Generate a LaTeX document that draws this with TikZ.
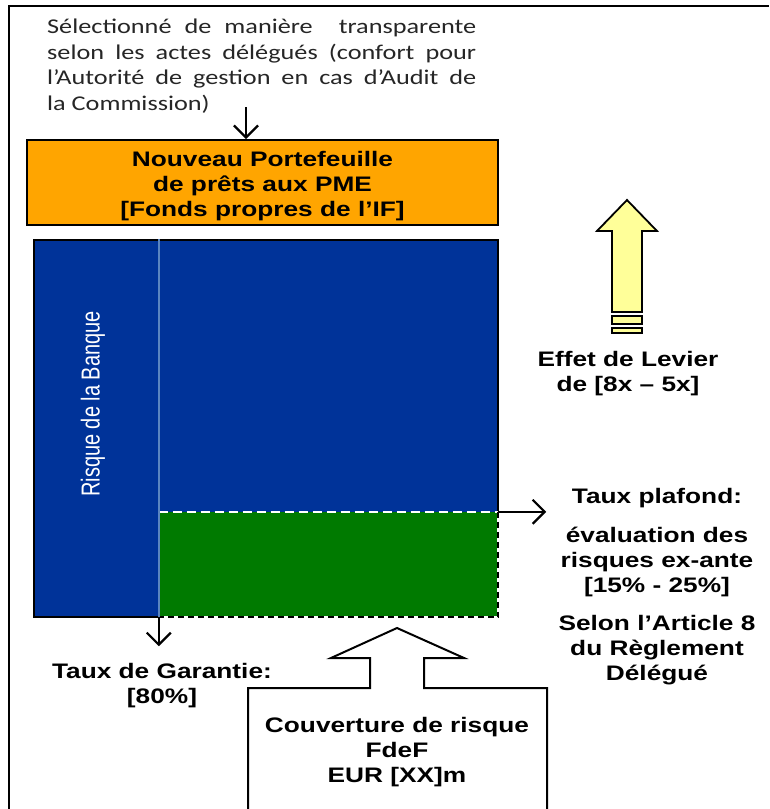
\documentclass[tikz,border=0pt]{standalone}
\usepackage{fontspec}
\setmainfont{Liberation Sans}[FakeStretch=1.25]
\newfontfamily\calfont{Carlito}[FakeStretch=1.25]
\newfontfamily\plainsans{Liberation Sans}
\usetikzlibrary{arrows.meta}
\definecolor{pforange}{HTML}{FFA500}
\definecolor{bankblue}{HTML}{003399}
\definecolor{fgreen}{HTML}{007A00}
\definecolor{levyellow}{HTML}{FFFF99}
\definecolor{sepblue}{HTML}{5B85C0}
\definecolor{seltext}{HTML}{262626}
\tikzset{
  lbl/.style={font=\bfseries\fontsize{21}{25}\selectfont, align=center, inner sep=0pt},
  thinarrow/.style={line width=2.2pt, -{Straight Barb[length=12pt,width=24pt]}},
  bordered/.style={draw=black, line width=2pt},
}
\begin{document}
\begin{tikzpicture}[x=1pt,y=-1pt]
\useasboundingbox (0,0) rectangle (769,809);
\fill[white] (0,0) rectangle (769,809);
% frame
\draw[line width=2.5pt] (9,809) -- (9,6) -- (769,6);
% top text
\node[anchor=north west, text width=429pt, align=justify, inner sep=0pt, text=seltext,
      font=\calfont\fontsize{21}{25.5}\selectfont] (sel) at (47,19)
  {Sélectionné de manière\ \ transparente\linebreak selon les actes délégués (confort pour\linebreak l’Autorité de gestion en cas d’Audit de\linebreak la Commission)};
% portfolio box
\node[bordered, fill=pforange, minimum width=471pt, minimum height=85pt, inner sep=0pt] (pf) at (262.5,182.5) {};
\node[lbl] (pftext) at (262.5,186.5) {Nouveau Portefeuille\\de prêts aux PME\\{}[Fonds propres de l’IF]};
\coordinate (selend) at (246,107);
\draw[thinarrow] (selend) -- (selend |- pf.north);
% bank risk block
\node[bordered, fill=bankblue, minimum width=464pt, minimum height=377pt, inner sep=0pt] (bank) at (266,428.5) {};
\node[fill=fgreen, minimum width=339pt, minimum height=105pt, inner sep=0pt] (cov) at (328.5,564.5) {};
\draw[white, line width=2pt, dash pattern=on 9pt off 5pt] (cov.north west) -- (cov.north east);
\draw[white, line width=2pt] (cov.north east) -- (cov.south east) -- (cov.south west);
\draw[black, line width=2pt, dash pattern=on 6pt off 4pt] (cov.north east) -- (cov.south east) -- (cov.south west);
\draw[sepblue, line width=2pt] (bank.north -| cov.west) -- (cov.south west);
\node[rotate=90, text=white, inner sep=0pt, font=\plainsans\fontsize{20}{24}\selectfont] (risk) at (93,404)
  {\scalebox{1}[1.3]{Risque de la Banque}};
% guarantee rate
\path (cov.south west) ++(0,29) coordinate (garend);
\draw[thinarrow] (cov.south west) -- (garend);
\node[lbl] (gar) at (162,686) {Taux de Garantie:\\{}[80\%]};
% cap rate
\path (cov.north east) ++(48,0) coordinate (plafend);
\draw[thinarrow] (cov.north east) -- (plafend);
\node[lbl] (plaf) at (657,498) {Taux plafond:};
\node[lbl] (eval) at (657,562) {évaluation des\\risques ex-ante\\{}[15\% - 25\%]};
\node[lbl] (art) at (657,650) {Selon l’Article 8\\du Règlement\\Délégué};
% risk coverage block arrow
\draw[line width=2pt, fill=white, line join=miter] (248,830) -- (248,688) -- (370,688) -- (370,658) -- (331,658)
  -- (397,628) -- (464,658) -- (424,658) -- (424,688) -- (547,688) -- (547,830);
\node[lbl] (fdef) at (397,752) {Couverture de risque\\FdeF\\EUR [XX]m};
% leverage arrow
\draw[line width=1.8pt, fill=levyellow, line join=miter] (612,312) -- (612,231) -- (597,231) -- (627,200)
  -- (657,231) -- (642,231) -- (642,312) -- cycle;
\draw[line width=1.8pt, fill=levyellow] (612,316) rectangle (642,324);
\draw[line width=1.8pt, fill=levyellow] (612,328) rectangle (642,333);
\node[lbl] (lev) at (628,374) {Effet de Levier\\de [8x – 5x]};
\end{tikzpicture}
\end{document}
